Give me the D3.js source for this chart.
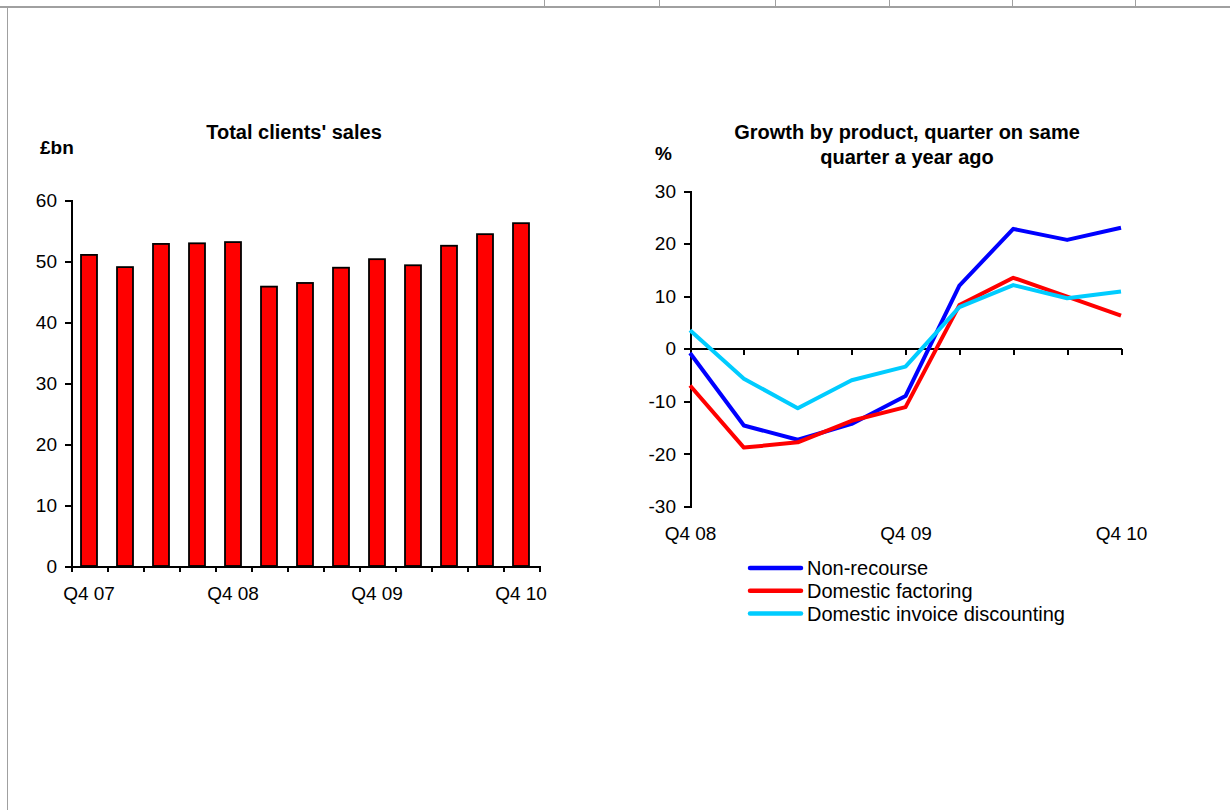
<!DOCTYPE html>
<html>
<head>
<meta charset="utf-8">
<script src="https://cdn.jsdelivr.net/npm/d3@7"></script>
<style>
  body { margin: 0; background: #fff; }
  svg { display: block; font-family: Arial, "Liberation Sans", sans-serif; }
  .axis path, .axis line { stroke: #000; stroke-width: 2; shape-rendering: crispEdges; }
  .axis text { font-size: 19px; fill: #000; }
  .title { font-size: 20px; font-weight: bold; }
  .unit { font-size: 19px; font-weight: bold; }
  .legend text { font-size: 20px; }
</style>
</head>
<body>
<svg class="chart"></svg>
<script>
// data
var salesQuarters = ['Q4 07', 'Q1 08', 'Q2 08', 'Q3 08', 'Q4 08', 'Q1 09', 'Q2 09',
                     'Q3 09', 'Q4 09', 'Q1 10', 'Q2 10', 'Q3 10', 'Q4 10'];
var salesValues = [51.0, 49.0, 52.8, 52.9, 53.1, 45.8, 46.4, 48.9, 50.3, 49.3, 52.5, 54.4, 56.2];
var salesTicks = [0, 10, 20, 30, 40, 50, 60];

var growthQuarters = ['Q4 08', 'Q1 09', 'Q2 09', 'Q3 09', 'Q4 09', 'Q1 10', 'Q2 10', 'Q3 10', 'Q4 10'];
var nonRecourse = [-0.8, -14.6, -17.3, -14.3, -9.0, 12.0, 22.8, 20.7, 23.0];
var domesticFactoring = [-7.0, -18.8, -17.8, -13.7, -11.1, 8.3, 13.5, 9.9, 6.3];
var invoiceDiscounting = [3.5, -5.7, -11.3, -6.0, -3.4, 7.9, 12.1, 9.6, 10.9];
var growthTicks = [-30, -20, -10, 0, 10, 20, 30];

var seriesNames = ['Non-recourse', 'Domestic factoring', 'Domestic invoice discounting'];
var seriesColors = ['#0000ff', '#ff0000', '#00ccff'];

var labelQuarters = ['Q4 07', 'Q4 08', 'Q4 09', 'Q4 10'];

// plain hyphen for negatives, like the original
var plain = function(d) { return String(d); };

var svg = d3.select('.chart')
  .attr('width', 1230)
  .attr('height', 810);

// sheet frame (grey cell borders)
svg.append('line').attr('x1', 0).attr('x2', 1230).attr('y1', 7).attr('y2', 7)
  .attr('stroke', '#a0a0a0').attr('stroke-width', 2);
svg.append('line').attr('x1', 7.5).attr('x2', 7.5).attr('y1', 7).attr('y2', 810)
  .attr('stroke', '#a0a0a0').attr('stroke-width', 1);
[544, 659, 775, 889, 1012, 1135].forEach(function(x) {
  svg.append('line').attr('x1', x + 0.5).attr('x2', x + 0.5).attr('y1', 0).attr('y2', 7)
    .attr('stroke', '#a0a0a0').attr('stroke-width', 1);
});

// ---------- left: Total clients' sales ----------
var m1 = {left: 71, top: 200},
    w1 = 468,
    h1 = 366;

var g1 = svg.append('g').attr('transform', 'translate(' + m1.left + ',' + m1.top + ')');

var x1 = d3.scaleBand().domain(salesQuarters).range([0, w1])
  .paddingInner(0.556).paddingOuter(0.278);
var y1 = d3.scaleLinear().domain([0, 60]).range([h1, 0]);

g1.selectAll('.bar')
  .data(salesValues)
  .enter().append('rect')
    .attr('class', 'bar')
    .attr('x', function(d, i) { return x1(salesQuarters[i]); })
    .attr('y', function(d) { return y1(d); })
    .attr('width', x1.bandwidth())
    .attr('height', function(d) { return h1 - y1(d); })
    .attr('fill', '#ff0000')
    .attr('stroke', '#000')
    .attr('stroke-width', 1.8);

g1.append('g')
  .attr('class', 'axis')
  .call(d3.axisLeft(y1).tickValues(salesTicks).tickFormat(plain).tickSize(6).tickPadding(8));

// category boundary ticks
var edges1 = d3.scaleLinear().domain([0, salesQuarters.length]).range([0, w1]);
g1.append('g')
  .attr('class', 'axis')
  .attr('transform', 'translate(0,' + h1 + ')')
  .call(d3.axisBottom(edges1).tickValues(d3.range(0, salesQuarters.length + 1))
    .tickSize(6).tickSizeOuter(0).tickFormat(''));

g1.append('g')
  .attr('class', 'axis labels')
  .attr('transform', 'translate(0,' + h1 + ')')
  .call(d3.axisBottom(x1).tickValues(labelQuarters).tickSize(0).tickPadding(21))
  .select('.domain').remove();

svg.append('text').attr('class', 'title')
  .attr('x', 294).attr('y', 139).attr('text-anchor', 'middle')
  .text("Total clients' sales");
svg.append('text').attr('class', 'unit')
  .attr('x', 40).attr('y', 154)
  .text('£bn');

// ---------- right: Growth by product ----------
var m2 = {left: 690, top: 191},
    w2 = 431,
    h2 = 315.5;

var g2 = svg.append('g').attr('transform', 'translate(' + m2.left + ',' + m2.top + ')');

var x2 = d3.scalePoint().domain(growthQuarters).range([0, w2]);
var y2 = d3.scaleLinear().domain([-30, 30]).range([h2, 0]);

g2.append('g')
  .attr('class', 'axis')
  .call(d3.axisLeft(y2).tickValues(growthTicks).tickFormat(plain).tickSize(6).tickPadding(8));

g2.append('g')
  .attr('class', 'axis')
  .attr('transform', 'translate(0,' + y2(0) + ')')
  .call(d3.axisBottom(x2).tickSize(6).tickSizeOuter(0).tickFormat(''));

g2.append('g')
  .attr('class', 'axis labels')
  .attr('transform', 'translate(0,' + h2 + ')')
  .call(d3.axisBottom(x2).tickValues(labelQuarters.slice(1)).tickSize(0).tickPadding(20))
  .select('.domain').remove();

var line = d3.line()
  .x(function(d, i) { return x2(growthQuarters[i]); })
  .y(function(d) { return y2(d); });

var series = [nonRecourse, domesticFactoring, invoiceDiscounting];

g2.selectAll('.series')
  .data(series)
  .enter().append('path')
    .attr('class', 'series')
    .attr('d', line)
    .attr('fill', 'none')
    .attr('stroke', function(d, i) { return seriesColors[i]; })
    .attr('stroke-width', 4)
    .attr('stroke-linejoin', 'round');

svg.append('text').attr('class', 'title')
  .attr('x', 907).attr('y', 139).attr('text-anchor', 'middle')
  .text('Growth by product, quarter on same');
svg.append('text').attr('class', 'title')
  .attr('x', 907).attr('y', 164).attr('text-anchor', 'middle')
  .text('quarter a year ago');
svg.append('text').attr('class', 'unit')
  .attr('x', 655).attr('y', 160)
  .text('%');

// legend
var legend = svg.append('g').attr('class', 'legend')
  .attr('transform', 'translate(750,568)');

var items = legend.selectAll('g')
  .data(seriesNames)
  .enter().append('g')
    .attr('transform', function(d, i) { return 'translate(0,' + (i * 22.8) + ')'; });

items.append('line')
  .attr('x1', 0).attr('x2', 51)
  .attr('stroke', function(d, i) { return seriesColors[i]; })
  .attr('stroke-width', 4.5)
  .attr('stroke-linecap', 'round');

items.append('text')
  .attr('x', 57)
  .attr('dy', '0.35em')
  .text(function(d) { return d; });
</script>
</body>
</html>
